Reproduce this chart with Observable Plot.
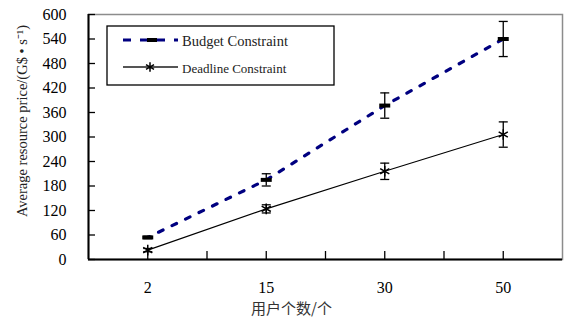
<!DOCTYPE html>
<html><head><meta charset="utf-8">
<script src="https://cdn.jsdelivr.net/npm/d3@7"></script>
<script src="https://cdn.jsdelivr.net/npm/@observablehq/plot@0.6"></script>
<style>
body{margin:0;background:#fff}
#chart{position:relative;width:565px;height:324px}
</style>
</head><body><div id="chart"></div>
<script>
// ---- data ----
const userCounts = ["2", "15", "30", "50"];
const budgetPrice = [54, 195, 377, 540];
const budgetErr = [3, 15, 31, 43];
const deadlinePrice = [23, 124, 216, 306];
const deadlineErr = [4, 10, 20, 31];
const yTicks = [0, 60, 120, 180, 240, 300, 360, 420, 480, 540, 600];
const seriesNames = ["Budget Constraint", "Deadline Constraint"];
const xTitle = "用户个数/个";
const yTitle = "Average resource price/(G$ • s⁻¹)";

// ---- derived tables ----
const budget = userCounts.map((u, i) => ({pos: i + 0.5, v: budgetPrice[i], e: budgetErr[i]}));
const deadline = userCounts.map((u, i) => ({pos: i + 0.5, v: deadlinePrice[i], e: deadlineErr[i]}));
const catPos = userCounts.map((u, i) => i + 0.5);
const minorPos = d3.range(1, userCounts.length * 2).map(k => k / 2);

const barSymbol = {draw(ctx) { ctx.rect(-5.5, -2, 11, 4); }};
const capSymbol = {draw(ctx) { ctx.moveTo(-4.5, 0); ctx.lineTo(4.5, 0); }};

function errMarks(data) {
  return [
    Plot.ruleX(data, {x: "pos", y1: d => d.v - d.e, y2: d => d.v + d.e, stroke: "black", strokeWidth: 1.3}),
    Plot.dot(data, {x: "pos", y: d => d.v - d.e, symbol: capSymbol, fill: "none", stroke: "black", strokeWidth: 1.3}),
    Plot.dot(data, {x: "pos", y: d => d.v + d.e, symbol: capSymbol, fill: "none", stroke: "black", strokeWidth: 1.3})
  ];
}

const serif = "'Liberation Serif', 'Times New Roman', serif";

const chart = Plot.plot({
  width: 565,
  height: 324,
  marginLeft: 88,
  marginRight: 3,
  marginTop: 14,
  marginBottom: 65,
  style: {fontFamily: serif, fontSize: "16px", background: "white", color: "black", overflow: "visible"},
  x: {type: "linear", domain: [0, userCounts.length], label: null},
  y: {domain: [0, 600], label: null},
  marks: [
    Plot.frame({stroke: "#8c8c8c", strokeWidth: 1.5}),
    Plot.axisY({ticks: yTicks, tickSize: -7, tickPadding: 29, fontSize: 16, label: null, strokeWidth: 1.3}),
    Plot.axisX(minorPos, {tickSize: -8, tickFormat: () => "", label: null, strokeWidth: 1.3}),
    Plot.axisX(catPos, {tickSize: 0, tickPadding: 22, fontSize: 16, label: null, tickFormat: d => userCounts[Math.floor(d)]}),
    Plot.ruleX([0], {stroke: "black", strokeWidth: 2}),
    Plot.ruleY([0], {stroke: "black", strokeWidth: 2}),
    Plot.line(budget, {x: "pos", y: "v", stroke: "#000080", strokeWidth: 3.2, strokeDasharray: "5 10", strokeDashoffset: -12}),
    Plot.line(deadline, {x: "pos", y: "v", stroke: "black", strokeWidth: 1.1}),
    ...errMarks(budget),
    ...errMarks(deadline),
    Plot.dot(budget, {x: "pos", y: "v", symbol: barSymbol, fill: "black", stroke: "none"}),
    Plot.dot(deadline, {x: "pos", y: "v", symbol: "asterisk", r: 5, stroke: "black", strokeWidth: 1.5}),
    Plot.text([yTitle], {frameAnchor: "left", textAnchor: "middle", rotate: -90, dx: -66, dy: -16, fontSize: 14.5, fill: "#222", fontFamily: serif}),
    Plot.text([xTitle], {frameAnchor: "bottom", dx: -34, dy: 54, fontSize: 15, fill: "#333", fontFamily: "'Noto Sans CJK SC', sans-serif"})
  ]
});

document.getElementById("chart").appendChild(chart);

// ---- legend (inside the plot area, top-left) ----
const svg = d3.select(chart);
const lg = svg.append("g").attr("class", "legend").attr("text-anchor", "start");
lg.append("rect").attr("x", 107).attr("y", 26).attr("width", 227).attr("height", 59)
  .attr("fill", "white").attr("stroke", "black").attr("stroke-width", 1.3);
// budget entry
lg.append("line").attr("x1", 123).attr("x2", 178).attr("y1", 40).attr("y2", 40)
  .attr("stroke", "#000080").attr("stroke-width", 3).attr("stroke-dasharray", "8 9");
lg.append("rect").attr("x", 147).attr("y", 38).attr("width", 10).attr("height", 4).attr("fill", "black");
lg.append("text").attr("x", 182).attr("y", 41).attr("dy", "0.35em")
  .attr("font-size", 14.5).attr("font-family", serif).attr("fill", "#222").text(seriesNames[0]);
// deadline entry
lg.append("line").attr("x1", 123).attr("x2", 178).attr("y1", 67).attr("y2", 67)
  .attr("stroke", "#555").attr("stroke-width", 2);
lg.append("path").attr("transform", "translate(150,67)")
  .attr("d", d3.symbol(d3.symbolAsterisk, 60)()).attr("stroke", "black").attr("stroke-width", 1.5).attr("fill", "none");
lg.append("text").attr("x", 182).attr("y", 68).attr("dy", "0.35em")
  .attr("font-size", 13).attr("font-family", serif).attr("fill", "#222").text(seriesNames[1]);
</script>
</body></html>
